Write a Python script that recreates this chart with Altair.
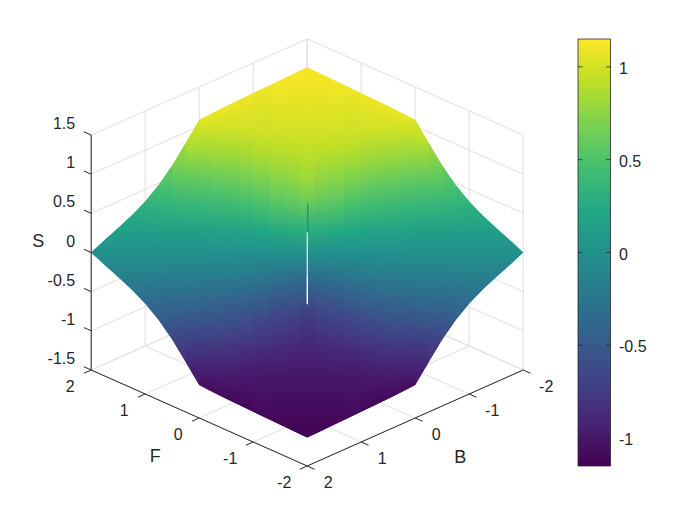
import altair as alt
import pandas as pd

# ---------- surface values ----------
# V = F + B, U = F - B.  Surface is S(U, V), odd in U and even in V.
EDGE_V = [0, 0.15, 0.4, 0.7, 1, 1.25, 1.5, 1.75, 2, 2.25, 2.5, 2.75, 3, 3.25, 3.5, 3.75, 4]
EDGE_S = [1.136, 1.134, 1.128, 1.121, 1.114, 1.107, 1.10, 1.09, 1.079, 0.862, 0.651, 0.479, 0.345, 0.244, 0.16, 0.082, 0.0]

COL_U = [
    [0, 0.005, 0.09, 0.4, 1.2, 1.85, 2.85, 3.93],
    [0, 0.02, 0.23, 0.54, 1.27, 1.84, 2.86, 3.73],
    [0, 0.1, 0.3, 0.62, 1.3, 1.85, 2.86, 3.45],
    [0, 0.2, 0.45, 0.75, 1.3, 1.85, 2.85, 3.15],
    [0, 0.28, 0.57, 0.9, 1.38, 1.9, 2.88],
    [0, 0.32, 0.63, 1.0, 1.43, 1.95, 2.63],
    [0, 0.33, 0.67, 1.05, 1.47, 1.95, 2.38],
    [0, 0.37, 0.72, 1.1, 1.5, 1.9, 2.13],
    [0, 0.4, 0.8, 1.15, 1.5, 1.88],
    [0, 0.4, 0.8, 1.2, 1.63],
    [0, 0.4, 0.8, 1.1, 1.37],
    [0, 0.4, 0.8, 1.12],
    [0, 0.4, 0.87],
    [0, 0.3, 0.62],
    [0, 0.37],
    [0, 0.12],
]
COL_S = [
    [0, 0.3, 0.64, 0.8, 0.93, 1.0, 1.07, 1.135],
    [0, 0.3, 0.6, 0.76, 0.92, 1.0, 1.07, 1.13],
    [0, 0.25, 0.55, 0.72, 0.91, 1.0, 1.07, 1.115],
    [0, 0.22, 0.48, 0.68, 0.88, 0.99, 1.06, 1.10],
    [0, 0.19, 0.43, 0.65, 0.85, 0.985, 1.105],
    [0, 0.17, 0.41, 0.62, 0.83, 0.98, 1.095],
    [0, 0.165, 0.39, 0.6, 0.83, 0.97, 1.09],
    [0, 0.155, 0.37, 0.58, 0.8, 0.96, 1.085],
    [0, 0.15, 0.37, 0.58, 0.8, 0.97],
    [0, 0.14, 0.35, 0.57, 0.76],
    [0, 0.13, 0.32, 0.46, 0.56],
    [0, 0.12, 0.29, 0.41],
    [0, 0.11, 0.29],
    [0, 0.08, 0.20],
    [0, 0.12],
    [0, 0.04],
]
SLIT_PALE_S = [0.26, -0.29]
SLIT_WHITE_S = [-0.29, -0.66]
SLIT_BLUE_S = [0.63, 0.24]

# ---------- axes ----------
AX_TICKS = [-2, -1, 0, 1, 2]
S_TICKS = [-1.5, -1, -0.5, 0, 0.5, 1, 1.5]
S_LABELS = ["-1.5", "-1", "-0.5", "0", "0.5", "1", "1.5"]
CB_TICKS = [-1, -0.5, 0, 0.5, 1]
CB_LABELS = ["-1", "-0.5", "0", "0.5", "1"]
CB_RANGE = [-1.15, 1.15]
VIRIDIS = ["#440154", "#482475", "#414487", "#355f8d", "#2a788e", "#21918c",
           "#22a884", "#44bf70", "#7ad151", "#bddf26", "#fde725"]
INK = "#262626"
GRID = "#dedede"
FONT = "Liberation Sans"


def px(F, B):
    return 307.2 - 54.0 * (F + B)


def py(F, B, S):
    return 252.5 - 24.0 * (F - B) - 78.33 * S


def uv(u, v, S):
    return 307.2 - 54.0 * v, 252.5 - 24.0 * u - 78.33 * S


def cb_y(S):
    return 252.5 - 185.65 * S


def hex2rgb(h):
    return [int(h[i:i + 2], 16) for i in (1, 3, 5)]


def colour(S):
    t = (S - CB_RANGE[0]) / (CB_RANGE[1] - CB_RANGE[0])
    t = min(max(t, 0), 1) * (len(VIRIDIS) - 1)
    i = min(int(t), len(VIRIDIS) - 2)
    a, b = hex2rgb(VIRIDIS[i]), hex2rgb(VIRIDIS[i + 1])
    f = t - i
    return "#%02x%02x%02x" % tuple(round(a[k] + (b[k] - a[k]) * f) for k in range(3))


W, H = 681, 508
XS = alt.X("x:Q", scale=alt.Scale(domain=[8, 8 + W], nice=False, zero=False), axis=None)
YS = alt.Y("y:Q", scale=alt.Scale(domain=[8 + H, 8], nice=False, zero=False), axis=None)


def segs(rows, color, width=1.0):
    """rows: list of (x0, y0, x1, y1)"""
    recs = []
    for i, (a, b, c, d) in enumerate(rows):
        recs += [{"x": a, "y": b, "g": i}, {"x": c, "y": d, "g": i}]
    return alt.Chart(pd.DataFrame(recs)).mark_line(color=color, strokeWidth=width, clip=False).encode(
        x=XS, y=YS, detail="g:N", order=alt.Order("g:Q"))


def text_layer(rows, size, align="center"):
    df = pd.DataFrame(rows, columns=["x", "y", "t"])
    return alt.Chart(df).mark_text(font=FONT, fontSize=size, color=INK, align=align, baseline="middle").encode(
        x=XS, y=YS, text="t:N")


lo, hi = -1.5, 1.5
grid = []
for t in AX_TICKS:
    # wall F = 2: verticals, wall B = -2: verticals
    grid.append((px(2, t), py(2, t, lo), px(2, t), py(2, t, hi)))
    grid.append((px(t, -2), py(t, -2, lo), px(t, -2), py(t, -2, hi)))
    # floor
    grid.append((px(t, 2), py(t, 2, lo), px(t, -2), py(t, -2, lo)))
    grid.append((px(2, t), py(2, t, lo), px(-2, t), py(-2, t, lo)))
for s in S_TICKS:
    grid.append((px(2, 2), py(2, 2, s), px(2, -2), py(2, -2, s)))
    grid.append((px(2, -2), py(2, -2, s), px(-2, -2), py(-2, -2, s)))
layers = [segs(grid, GRID, 1.0)]


def stops_for(us, ss, ytop, ybot):
    pts = []
    for u, s in zip(us, ss):
        pts.append((uv(u, 0, s)[1], colour(s)))
        if u != 0 or s != 0:
            pts.append((uv(-u, 0, -s)[1], colour(-s)))
    pts.sort(key=lambda p: p[0])
    span = ybot - ytop
    out = []
    for y, c in pts:
        o = min(max((y - ytop) / span, 0), 1)
        out.append(alt.GradientStop(offset=o, color=c))
    return alt.Gradient(gradient="linear", x1=0, x2=0, y1=0, y2=1, stops=out)


def edge_xy(v, s):
    u = 4 - v
    x, y = uv(u, v, s)
    return x, y, 2 * 252.5 - y


# base patch covering seams
recs = []
for sign in (-1, 1):
    for v, s in zip(EDGE_V, EDGE_S):
        x, y, y2 = edge_xy(v, s)
        recs.append({"x": 307.2 + sign * (307.2 - x), "y": y, "y2": y2})
base_df = pd.DataFrame(recs).drop_duplicates().sort_values("x")
layers.append(alt.Chart(base_df).mark_area(
    color=stops_for(COL_U[3], COL_S[3], base_df.y.min(), base_df.y2.max()), interpolate="linear").encode(
    x=XS, y=YS, y2="y2:Q"))

for i in range(len(EDGE_V) - 1):
    a = edge_xy(EDGE_V[i], EDGE_S[i])
    b = edge_xy(EDGE_V[i + 1], EDGE_S[i + 1])
    ytop, ybot = min(a[1], b[1]), max(a[2], b[2])
    grad = stops_for(COL_U[i], COL_S[i], ytop, ybot)
    for sign in (-1, 1):
        rows = [{"x": 307.2 + sign * (307.2 - p[0]), "y": p[1], "y2": p[2]} for p in (a, b)]
        df = pd.DataFrame(rows).sort_values("x")
        layers.append(alt.Chart(df).mark_area(color=grad, interpolate="linear").encode(x=XS, y=YS, y2="y2:Q"))

# the slit along F = B = 0
sx = px(0, 0)
layers.append(segs([(sx + 0.6, uv(0, 0, SLIT_BLUE_S[0])[1], sx + 0.6, uv(0, 0, SLIT_BLUE_S[1])[1])], "#2f7f8e", 1.2))
layers.append(segs([(sx + 0.1, uv(0, 0, SLIT_PALE_S[0])[1], sx + 0.1, uv(0, 0, SLIT_PALE_S[1])[1])], "#d3dcde", 1.4))
layers.append(segs([(sx + 0.1, uv(0, 0, SLIT_WHITE_S[0])[1], sx + 0.1, uv(0, 0, SLIT_WHITE_S[1])[1])], "#fbfbfb", 1.4))

# axis lines
axes = [
    (px(2, 2), py(2, 2, lo), px(2, 2), py(2, 2, hi)),
    (px(2, 2), py(2, 2, lo), px(-2, 2), py(-2, 2, lo)),
    (px(-2, 2), py(-2, 2, lo), px(-2, -2), py(-2, -2, lo)),
]
L = 0.135
for t in AX_TICKS:
    axes.append((px(t, 2), py(t, 2, lo), px(t, 2 + L), py(t, 2 + L, lo)))
    axes.append((px(-2, t), py(-2, t, lo), px(-2 - L, t), py(-2 - L, t, lo)))
for s in S_TICKS:
    axes.append((px(2, 2), py(2, 2, s), px(2 + L, 2), py(2 + L, 2, s)))
layers.append(segs(axes, INK, 1.0))

# tick labels
f_lab = [(px(t, 2) - (21 if t >= 0 else 23), py(t, 2, lo) + 17.5, str(t)) for t in AX_TICKS]
b_lab = [(px(-2, t) + (21 if t >= 0 else 23), py(-2, t, lo) + 17.5, str(t)) for t in AX_TICKS]
s_lab = [(px(2, 2) - 16, py(2, 2, s) - 11, l) for s, l in zip(S_TICKS, S_LABELS)]
layers.append(text_layer(f_lab + b_lab, 16))
layers.append(text_layer(s_lab, 16, "right"))
layers.append(text_layer([
    (px(0, 2) - 44, py(0, 2, lo) + 39, "F"),
    (px(-2, 0) + 45, py(-2, 0, lo) + 40, "B"),
    (px(2, 2) - 53, py(2, 2, 0) - 11, "S"),
], 18))

# colour bar
CB_X = [578, 610.5]
cb_df = pd.DataFrame([{"x": CB_X[0], "x2": CB_X[1], "y": cb_y(CB_RANGE[1]), "y2": cb_y(CB_RANGE[0])}])
cb_grad = alt.Gradient(gradient="linear", x1=0, x2=0, y1=1, y2=0, stops=[
    alt.GradientStop(offset=i / (len(VIRIDIS) - 1), color=c) for i, c in enumerate(VIRIDIS)])
layers.append(alt.Chart(cb_df).mark_rect(color=cb_grad, stroke=INK, strokeWidth=0.8).encode(
    x=XS, x2="x2:Q", y=YS, y2="y2:Q"))
cb_ticks = []
for s in CB_TICKS:
    cb_ticks.append((CB_X[0], cb_y(s), CB_X[0] + 4.5, cb_y(s)))
    cb_ticks.append((CB_X[1] - 4.5, cb_y(s), CB_X[1], cb_y(s)))
layers.append(segs(cb_ticks, INK, 0.8))
layers.append(text_layer([(619, cb_y(s) + 2, l) for s, l in zip(CB_TICKS, CB_LABELS)], 16, "left"))

chart = alt.layer(*layers).properties(width=W, height=H, padding=0, background="white").configure_view(stroke=None)
chart.save("out.html", embed_options={"renderer": "svg", "actions": False})
